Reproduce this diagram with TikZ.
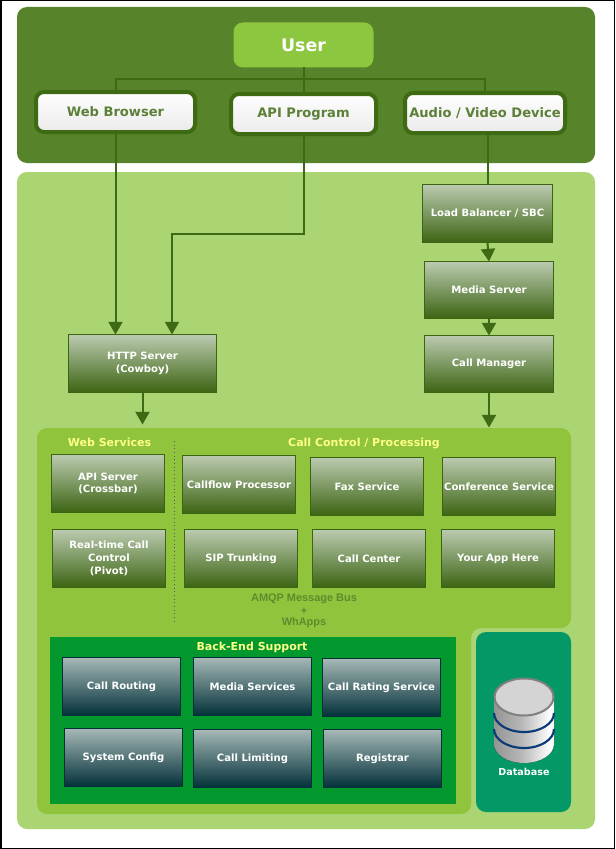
\documentclass[tikz,border=0pt]{standalone}
\usepackage{fontspec}
\setmainfont{DejaVu Sans}
\newfontfamily\arialb{Liberation Sans}
\usetikzlibrary{arrows.meta,calc}
\definecolor{darkpanel}{HTML}{57832A}
\definecolor{lightpanel}{HTML}{ABD473}
\definecolor{midpanel}{HTML}{8FC43C}
\definecolor{userfill}{HTML}{8DC63F}
\definecolor{edge}{HTML}{3F6A14}
\definecolor{gtop}{HTML}{BBCBB0}
\definecolor{gbot}{HTML}{3C6412}
\definecolor{btop}{HTML}{A6B9B6}
\definecolor{bbot}{HTML}{03313A}
\definecolor{backend}{HTML}{03982D}
\definecolor{dbpanel}{HTML}{039865}
\definecolor{titleyellow}{HTML}{FFFF88}
\definecolor{amqp}{HTML}{5E8B2C}
\definecolor{dbband}{HTML}{0B3A78}
\pgfdeclarehorizontalshading{cyl}{100bp}{
  color(0bp)=(black!58);
  color(25bp)=(black!42);
  color(48bp)=(black!28);
  color(72bp)=(white);
  color(88bp)=(black!40);
  color(100bp)=(black!72)}
\tikzset{
  panel/.style={rounded corners=7.5pt},
  conn/.style={draw=edge,line width=1.5pt},
  arr/.style={conn,-{Triangle[length=9.5pt,width=10.5pt]}},
  greenbox/.style={draw=gbot,line width=.75pt,top color=gtop,bottom color=gbot,text=white,font=\fontsize{7.55}{9.6}\selectfont\bfseries,align=center,inner sep=0pt,outer sep=0pt},
  bluebox/.style={draw=bbot,line width=.75pt,top color=btop,bottom color=bbot,text=white,font=\fontsize{7.55}{9.6}\selectfont\bfseries,align=center,inner sep=0pt,outer sep=0pt},
  clientbox/.style={draw=edge,line width=3pt,rounded corners=6pt,top color=white,bottom color=black!8,text=edge!85!white,font=\fontsize{9.8}{12}\selectfont\bfseries,inner sep=0pt,outer sep=0pt},
  userbox/.style={fill=userfill,rounded corners=7pt,text=white,font=\fontsize{13}{15}\selectfont\bfseries,inner sep=0pt,outer sep=0pt},
  title/.style={text=titleyellow,font=\fontsize{8.25}{10}\selectfont\bfseries,inner sep=0pt},
  amqptext/.style={text=amqp,font=\arialb\fontsize{8.2}{9}\selectfont\bfseries,inner sep=0pt},
}
% name, x1, y1, x2, y2 (outer edges, in image pixels), style, text
\newcommand\bx[7]{%
  \pgfmathsetmacro\cxx{(#2+#4)/2}%
  \pgfmathsetmacro\cyy{(#3+#5)/2}%
  \pgfmathsetmacro\wdd{(#4-#2-1)*0.75}%
  \pgfmathsetmacro\htt{(#5-#3-1)*0.75}%
  \node[#6,minimum width=\wdd pt,minimum height=\htt pt] (#1) at (\cxx,\cyy) {#7};%
}
\begin{document}
\begin{tikzpicture}[x=0.75pt,y=-0.75pt]
\useasboundingbox (0,0) rectangle (615,849);
\fill[black] (0,0) rectangle (615,849);
\fill[white] (1.5,1.5) rectangle (613.5,847.5);
% panels
\fill[darkpanel,panel] (17,7) rectangle (595,163);
\fill[lightpanel,panel] (17,172) rectangle (595,829);
\fill[midpanel,panel] (37,428) -- (571,428) -- (571,628) -- (471,628) -- (471,814) -- (37,814) -- cycle;
\fill[backend] (50,637) rectangle (456,804);
\fill[dbpanel,panel] (476,632) rectangle (571,812);
% nodes
\bx{user}{233}{22}{374}{68}{userbox}{User}
\bx{web}{35.5}{91.5}{195.5}{132.5}{clientbox}{Web Browser}
\bx{api}{230.5}{93.5}{376.5}{134.5}{clientbox}{API Program}
\bx{av}{404.5}{92.5}{565.5}{133.5}{clientbox}{Audio / Video Device}
\bx{lb}{422}{184}{553}{243}{greenbox}{Load Balancer / SBC}
\bx{ms}{424}{261}{554}{319}{greenbox}{Media Server}
\bx{cm}{424}{335}{554}{393}{greenbox}{Call Manager}
\bx{http}{68}{334}{217}{393}{greenbox}{HTTP Server\\(Cowboy)}
\bx{apisrv}{51}{454}{165}{513}{greenbox}{API Server\\(Crossbar)}
\bx{pivot}{52}{529}{166}{588}{greenbox}{Real-time Call\\Control\\(Pivot)}
\bx{callflow}{182}{455}{296}{514}{greenbox}{Callflow Processor}
\bx{fax}{310}{457}{424}{516}{greenbox}{Fax Service}
\bx{conf}{442}{457}{556}{516}{greenbox}{Conference Service}
\bx{sip}{184}{529}{298}{588}{greenbox}{SIP Trunking}
\bx{center}{312}{529}{426}{588}{greenbox}{Call Center}
\bx{yourapp}{441}{529}{555}{588}{greenbox}{Your App Here}
\bx{routing}{62}{657}{181}{716}{bluebox}{Call Routing}
\bx{media}{193}{657}{312}{716}{bluebox}{Media Services}
\bx{rating}{322}{658}{441}{717}{bluebox}{Call Rating Service}
\bx{config}{64}{728}{183}{787}{bluebox}{System Config}
\bx{limit}{193}{729}{312}{788}{bluebox}{Call Limiting}
\bx{registrar}{323}{729}{442}{788}{bluebox}{Registrar}
% titles
\node[title] (wstitle) at (109.5,442) {Web Services};
\node[title] (cctitle) at (364,444) {Call Control / Processing};
\node[title] (betitle) at (252,647) {Back-End Support};
\node[amqptext] (amqp1) at (304,599) {AMQP Message Bus};
\node[amqptext] (amqp2) at (304,611) {+};
\node[amqptext] (amqp3) at (304,623) {WhApps};
\draw[black!65,line width=.75pt,dotted] (174.5,441) -- (174.5,622);
% database
\fill[shading=cyl] (494,697) -- (494,744) arc[start angle=180,end angle=0,x radius=30,y radius=19] -- (554,697) -- cycle;
\draw[dbband,line width=1.6pt] (494,713) arc[start angle=180,end angle=0,x radius=30,y radius=19];
\draw[dbband,line width=1.6pt] (494,729) arc[start angle=180,end angle=0,x radius=30,y radius=19];
\draw[black!50,fill=black!17,line width=1.5pt] (524,697) ellipse[x radius=29.5,y radius=18.5];
\node[text=white,font=\fontsize{7.2}{9}\selectfont\bfseries,inner sep=0pt] (dblabel) at (524,772) {Database};
% connectors
\coordinate (bus) at ($(user.south)+(0,12)$);
\draw[conn] (user.south) -- (user.south |- api.north);
\draw[conn] (web.north) |- (bus) -| (av.north);
\draw[arr] (web.south) -- (web.south |- http.north);
\coordinate (apibend) at (172,234);
\draw[arr] (api.south) |- (apibend) -- (apibend |- http.north);
\draw[conn] (lb.north |- av.south) -- (lb.north);
\draw[arr] (lb.south) -- (ms.north);
\draw[arr] (ms.south) -- (cm.north);
\coordinate (cmend) at ($(cm.south)+(0,35)$);
\draw[arr] (cm.south) -- (cmend);
\coordinate (httpend) at ($(http.south)+(0,32)$);
\draw[arr] (http.south) -- (httpend);
\end{tikzpicture}
\end{document}
